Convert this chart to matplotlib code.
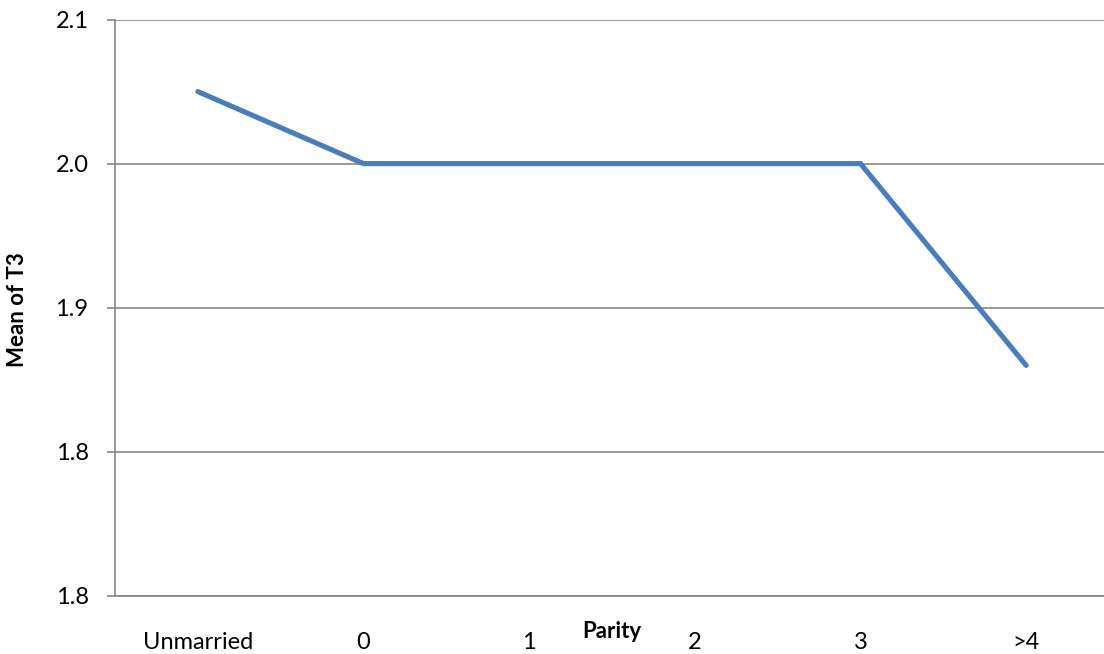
#!/usr/bin/env python3
"""Mean of T3 by parity group, line chart."""

import matplotlib
matplotlib.use("Agg")
import matplotlib.pyplot as plt

categories = ["Unmarried", "0", "1", "2", "3", ">4"]
mean_t3 = [2.05, 2.0, 2.0, 2.0, 2.0, 1.86]

y_ticks = [1.7, 1.8, 1.9, 2.0, 2.1]
y_tick_labels = ["1.8", "1.8", "1.9", "2.0", "2.1"]

LINE_BLUE = "#4A7EBB"
GRID_GRAY = "#868686"

plt.rcParams["font.family"] = ["Lato", "DejaVu Sans"]

fig = plt.figure(figsize=(11.04, 6.54), dpi=100)
# plot area runs a little past the right edge of the canvas
ax = fig.add_axes([115 / 1104, 58 / 654, 994 / 1104, 576.5 / 654])

x = list(range(len(categories)))
ax.plot(x, mean_t3, color=LINE_BLUE, linewidth=3.7, solid_capstyle="round",
        solid_joinstyle="miter", zorder=3)

ax.set_xlim(-0.5, len(categories) - 0.5)
ax.set_ylim(y_ticks[0], y_ticks[-1])
ax.set_yticks(y_ticks)
ax.set_yticklabels(y_tick_labels)
ax.set_xticks(x)
ax.set_xticklabels(categories)

ax.yaxis.grid(True, color=GRID_GRAY, linewidth=1.2)
ax.set_axisbelow(True)
for side in ("top", "right"):
    ax.spines[side].set_visible(False)
for side in ("left", "bottom"):
    ax.spines[side].set_color(GRID_GRAY)
    ax.spines[side].set_linewidth(1.2)

ax.tick_params(axis="y", length=6, width=1.2, color=GRID_GRAY, pad=13,
               labelsize=17, labelcolor="black")
ax.tick_params(axis="x", length=0, pad=26, labelsize=17, labelcolor="black")

fig.text(18 / 1104, 1 - 310 / 654, "Mean of T3", rotation=90, fontsize=16,
         fontweight="bold", ha="center", va="center")
fig.text(612 / 1104, 1 - 632 / 654, "Parity", fontsize=16,
         fontweight="bold", ha="center", va="center")

fig.savefig("out.png", dpi=100)
